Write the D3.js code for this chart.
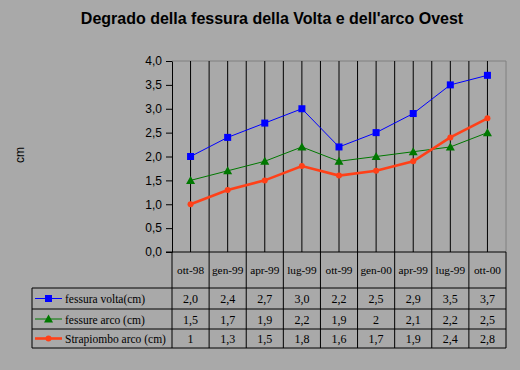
<!DOCTYPE html>
<html>
<head>
<meta charset="utf-8">
<script src="https://cdn.jsdelivr.net/npm/d3@7/dist/d3.min.js"></script>
<style>
  html, body { margin: 0; padding: 0; background: #a9a9a9; }
  svg { display: block; }
</style>
</head>
<body>
<div id="chart"></div>
<script>
// data
const categories = ["ott-98", "gen-99", "apr-99", "lug-99", "ott-99", "gen-00", "apr-99", "lug-99", "ott-00"];
const seriesNames = ["fessura volta(cm)", "fessure arco (cm)", "Strapiombo arco (cm)"];
const fessuraVolta = [2.0, 2.4, 2.7, 3.0, 2.2, 2.5, 2.9, 3.5, 3.7];
const fessureArco = [1.5, 1.7, 1.9, 2.2, 1.9, 2.0, 2.1, 2.2, 2.5];
const strapiombo = [1.0, 1.3, 1.5, 1.8, 1.6, 1.7, 1.9, 2.4, 2.8];
const yTicks = [0, 0.5, 1, 1.5, 2, 2.5, 3, 3.5, 4];

const width = 520, height = 370;
const plotLeft = 172, plotRight = 506, plotTop = 61, plotBottom = 252;
const rowH = [288, 309, 329, 348]; // table row edges below the axis
const legendLeft = 32;

const comma = s => s.replace(".", ",");
const fmtFixed = v => comma(d3.format(".1f")(v));
const fmtGeneral = v => comma(String(v));

const series = [
  {name: seriesNames[0], values: fessuraVolta, color: "#0000ff", width: 1, marker: "square", fmt: fmtFixed},
  {name: seriesNames[1], values: fessureArco, color: "#007800", width: 1, marker: "triangle", fmt: fmtGeneral},
  {name: seriesNames[2], values: strapiombo, color: "#ff4018", width: 2.6, marker: "circle", fmt: fmtGeneral}
];

const x = d3.scaleBand(d3.range(categories.length), [plotLeft, plotRight]);
const y = d3.scaleLinear([0, 4], [plotBottom, plotTop]);
const cx = i => x(i) + x.bandwidth() / 2;

const svg = d3.select("#chart").append("svg")
    .attr("width", width)
    .attr("height", height)
    .attr("font-family", "Arial, 'Liberation Sans', sans-serif");

svg.append("rect").attr("width", width).attr("height", height).attr("fill", "#a9a9a9");

// title
svg.append("text")
    .attr("x", 272).attr("y", 24)
    .attr("text-anchor", "middle")
    .attr("font-size", 16).attr("font-weight", "bold")
    .text("Degrado della fessura della Volta e dell'arco Ovest");

// y axis title
svg.append("text")
    .attr("transform", "translate(24,155) rotate(-90)")
    .attr("text-anchor", "middle")
    .attr("font-size", 12)
    .text("cm");

// plot frame (top and right in grey)
svg.append("path")
    .attr("d", `M${plotLeft},${y(4)}H${plotRight}V${plotBottom}`)
    .attr("fill", "none").attr("stroke", "#808080");

// vertical lines at category edges and centers
const edges = d3.range(categories.length).map(i => x(i)).concat([plotRight]);
svg.append("g").selectAll("line")
    .data(edges.slice(1, -1))
    .join("line")
    .attr("x1", d => d).attr("x2", d => d)
    .attr("y1", y(4)).attr("y2", rowH[0])
    .attr("stroke", "#000");
svg.append("g").selectAll("line")
    .data(d3.range(categories.length))
    .join("line")
    .attr("x1", cx).attr("x2", cx)
    .attr("y1", y(4)).attr("y2", y(0))
    .attr("stroke", "#000");

// y axis
const yAxis = svg.append("g")
    .attr("transform", `translate(${plotLeft},0)`)
    .call(d3.axisLeft(y).tickValues(yTicks).tickFormat(fmtFixed).tickSize(6).tickSizeOuter(0).tickPadding(4));
yAxis.select(".domain").attr("stroke", "#000");
yAxis.selectAll("text").attr("font-size", 12).attr("font-family", "Arial, 'Liberation Sans', sans-serif").attr("fill", "#000");

// x axis line
svg.append("line")
    .attr("x1", plotLeft - 6).attr("x2", plotRight)
    .attr("y1", plotBottom).attr("y2", plotBottom)
    .attr("stroke", "#000");

// series lines and markers
const line = d3.line().x((d, i) => cx(i)).y(d => y(d));

function drawMarker(g, type, color, px, py) {
  if (type === "square") {
    g.append("rect").attr("x", px - 3.5).attr("y", py - 3.5).attr("width", 7).attr("height", 7).attr("fill", color);
  } else if (type === "triangle") {
    g.append("path").attr("d", `M${px},${py - 4.5}L${px + 4.5},${py + 3.5}L${px - 4.5},${py + 3.5}Z`).attr("fill", color);
  } else {
    g.append("circle").attr("cx", px).attr("cy", py).attr("r", 3).attr("fill", color);
  }
}

series.forEach(s => {
  const g = svg.append("g");
  g.append("path")
      .attr("d", line(s.values))
      .attr("fill", "none")
      .attr("stroke", s.color)
      .attr("stroke-width", s.width);
  s.values.forEach((v, i) => drawMarker(g, s.marker, s.color, cx(i), y(v)));
});

// data table
const table = svg.append("g").attr("font-family", "'Times New Roman', 'Liberation Serif', serif").attr("font-size", 12);

// category row
table.append("line").attr("x1", plotLeft).attr("x2", plotLeft).attr("y1", plotBottom).attr("y2", rowH[3]).attr("stroke", "#000");
table.append("line").attr("x1", plotRight).attr("x2", plotRight).attr("y1", plotBottom).attr("y2", rowH[3]).attr("stroke", "#000");
table.selectAll(".cat")
    .data(categories)
    .join("text")
    .attr("x", (d, i) => cx(i))
    .attr("y", (plotBottom + rowH[0]) / 2 + 4)
    .attr("text-anchor", "middle")
    .attr("font-size", 11.3)
    .text(d => d);

// row borders
rowH.forEach(h => {
  table.append("line").attr("x1", legendLeft).attr("x2", plotRight).attr("y1", h).attr("y2", h).attr("stroke", "#000");
});
table.append("line").attr("x1", legendLeft).attr("x2", legendLeft).attr("y1", rowH[0]).attr("y2", rowH[3]).attr("stroke", "#000");
edges.slice(1, -1).forEach(e => {
  table.append("line").attr("x1", e).attr("x2", e).attr("y1", rowH[0]).attr("y2", rowH[3]).attr("stroke", "#000");
});

series.forEach((s, r) => {
  const mid = (rowH[r] + rowH[r + 1]) / 2;
  table.append("line")
      .attr("x1", 35).attr("x2", 62)
      .attr("y1", mid).attr("y2", mid)
      .attr("stroke", s.color).attr("stroke-width", s.width);
  drawMarker(table, s.marker, s.color, 48.5, mid);
  table.append("text")
      .attr("x", 65).attr("y", mid + 4.5)
      .attr("font-size", 11.5)
      .text(s.name);
  table.selectAll(null)
      .data(s.values)
      .join("text")
      .attr("x", (d, i) => cx(i))
      .attr("y", mid + 4.5)
      .attr("text-anchor", "middle")
      .text(s.fmt);
});
</script>
</body>
</html>
